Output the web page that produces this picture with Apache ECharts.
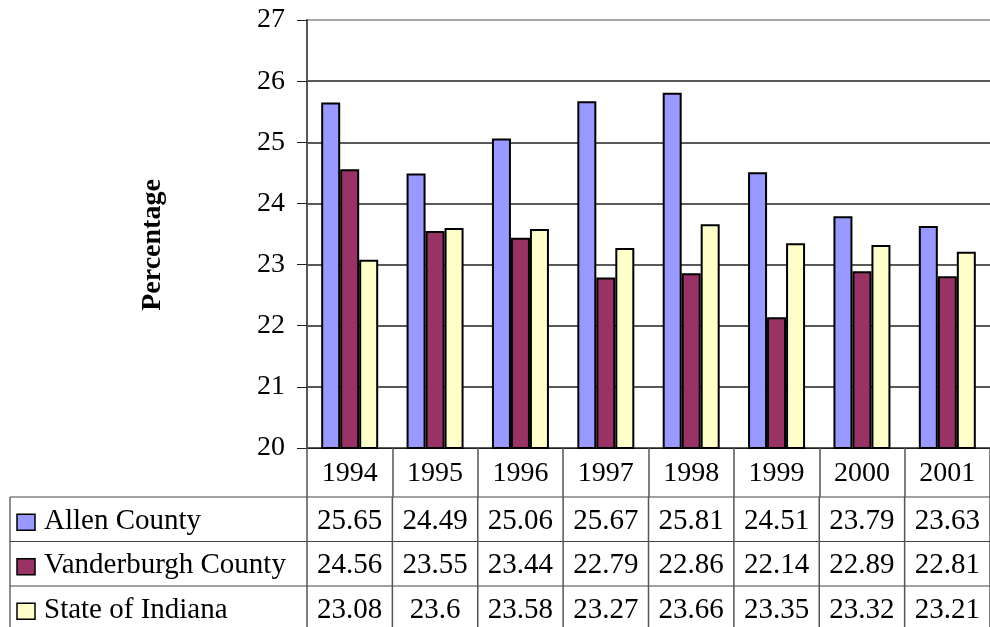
<!DOCTYPE html>
<html>
<head>
<meta charset="utf-8">
<script src="https://cdn.jsdelivr.net/npm/echarts@6/dist/echarts.min.js"></script>
<style>
  html, body { margin: 0; padding: 0; background: #fff; }
  #main { width: 990px; height: 627px; }
</style>
</head>
<body>
<div id="main"></div>
<script type="text/javascript">
    // 数据
    var years = ['1994', '1995', '1996', '1997', '1998', '1999', '2000', '2001'];
    var seriesNames = ['Allen County', 'Vanderburgh County', 'State of Indiana'];
    var allenCounty = [25.65, 24.49, 25.06, 25.67, 25.81, 24.51, 23.79, 23.63];
    var vanderburghCounty = [24.56, 23.55, 23.44, 22.79, 22.86, 22.14, 22.89, 22.81];
    var stateOfIndiana = [23.08, 23.6, 23.58, 23.27, 23.66, 23.35, 23.32, 23.21];
    var colors = ['#9999FF', '#993366', '#FFFFCC'];

    var font = 'Liberation Serif';
    var allData = [allenCounty, vanderburghCounty, stateOfIndiana];

    var myChart = echarts.init(document.getElementById('main'));

    var series = seriesNames.map(function (name, i) {
        return {
            name: name,
            type: 'bar',
            data: allData[i],
            barWidth: 19,
            barGap: '0%',
            itemStyle: {
                color: colors[i],
                borderColor: '#000',
                borderWidth: 2
            },
            silent: true
        };
    });

    var option = {
        animation: false,
        backgroundColor: '#fff',
        grid: {
            left: 307,
            top: 20,
            right: -5,
            bottom: 179
        },
        xAxis: {
            type: 'category',
            data: years,
            axisLine: { show: true, lineStyle: { color: '#222', width: 1 } },
            axisTick: {
                show: true,
                length: 49,
                interval: 0,
                lineStyle: { color: '#555', width: 1.5 }
            },
            axisLabel: {
                interval: 0,
                margin: 12,
                fontFamily: font,
                fontSize: 28,
                color: '#000'
            }
        },
        yAxis: {
            type: 'value',
            min: 20,
            max: 27,
            interval: 1,
            name: 'Percentage',
            nameLocation: 'middle',
            nameGap: 140,
            nameRotate: 90,
            nameTextStyle: {
                fontFamily: font,
                fontSize: 28,
                fontWeight: 'bold',
                color: '#000',
                padding: [0, 22, 0, 0]
            },
            axisLine: { show: true, lineStyle: { color: '#555', width: 2 } },
            axisTick: { show: true, length: 10, lineStyle: { color: '#222' } },
            axisLabel: {
                margin: 22,
                fontFamily: font,
                fontSize: 28,
                color: '#000'
            },
            splitLine: {
                show: true,
                lineStyle: {
                    color: ['#222', '#222', '#222', '#222', '#222', '#222', '#222', '#888'],
                    width: 1.5
                }
            }
        },
        series: series
    };

    myChart.setOption(option);

    // 数据表
    var band = myChart.convertToPixel({ xAxisIndex: 0 }, years[1]) -
               myChart.convertToPixel({ xAxisIndex: 0 }, years[0]);
    var xStart = myChart.convertToPixel({ xAxisIndex: 0 }, years[0]) - band / 2;
    var xEnd = xStart + band * years.length;
    var yBase = myChart.convertToPixel({ yAxisIndex: 0 }, 20);
    var tableTop = yBase + 49;
    var rowH = 44.5;
    var tableLeft = 10;
    var lineColor = '#444';

    var elements = [];
    // 横线
    for (var r = 0; r < seriesNames.length; r++) {
        elements.push({
            type: 'line',
            shape: { x1: tableLeft, y1: tableTop + r * rowH, x2: xEnd, y2: tableTop + r * rowH },
            style: { stroke: lineColor, lineWidth: 1.2 }
        });
    }
    // 竖线
    elements.push({
        type: 'line',
        shape: { x1: tableLeft, y1: tableTop, x2: tableLeft, y2: 627 },
        style: { stroke: lineColor, lineWidth: 1.2 }
    });
    for (var c = 0; c <= years.length; c++) {
        var vx = xStart + c * band;
        elements.push({
            type: 'line',
            shape: { x1: vx, y1: tableTop, x2: vx, y2: 627 },
            style: { stroke: '#555', lineWidth: 1.5 }
        });
    }
    // 行标题与数值
    for (var s = 0; s < seriesNames.length; s++) {
        var cy = tableTop + s * rowH + rowH / 2;
        elements.push({
            type: 'rect',
            shape: { x: 17, y: cy - 5, width: 18, height: 16 },
            style: { fill: colors[s], stroke: '#000', lineWidth: 1.5 }
        });
        elements.push({
            type: 'text',
            x: 44,
            y: cy + 2,
            style: {
                text: seriesNames[s],
                fontFamily: font,
                fontSize: 29,
                fill: '#000',
                verticalAlign: 'middle',
                align: 'left'
            }
        });
        for (var k = 0; k < years.length; k++) {
            elements.push({
                type: 'text',
                x: xStart + k * band + band / 2,
                y: cy + 2,
                style: {
                    text: String(allData[s][k]),
                    fontFamily: font,
                    fontSize: 29,
                    fill: '#000',
                    verticalAlign: 'middle',
                    align: 'center'
                }
            });
        }
    }

    myChart.setOption({ graphic: { elements: elements } });
</script>
</body>
</html>
